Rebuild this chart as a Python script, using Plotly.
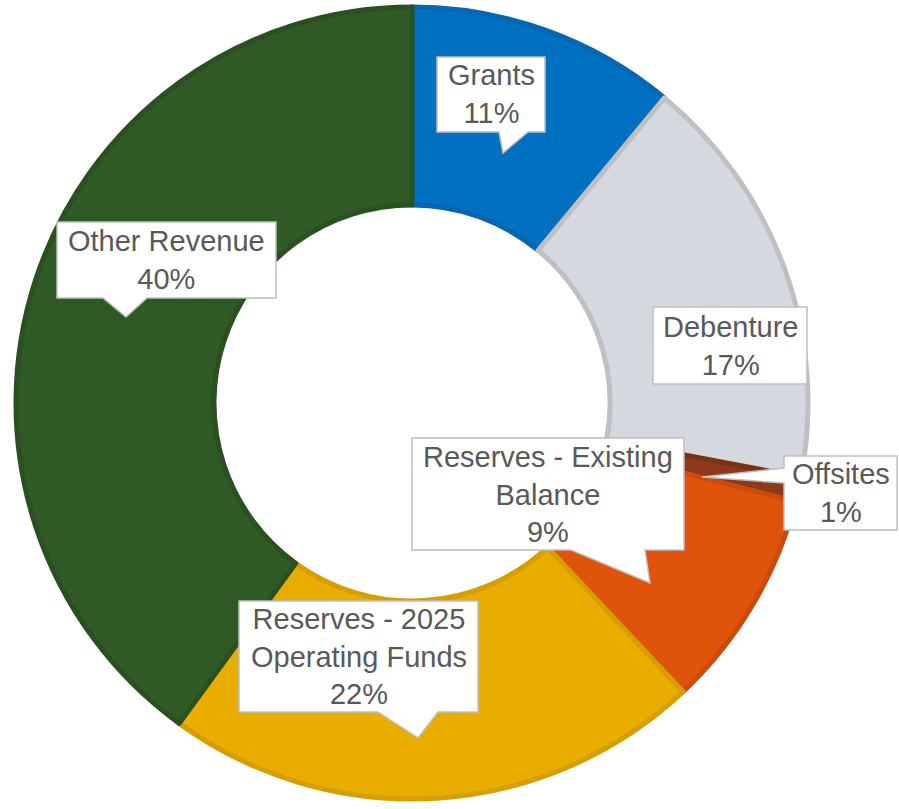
import plotly.graph_objects as go

# Funding sources (share of total, %)
categories = [
    "Grants",
    "Debenture",
    "Offsites",
    "Reserves - Existing Balance",
    "Reserves - 2025 Operating Funds",
    "Other Revenue",
]
values = [11, 17, 1, 9, 22, 40]

# Label text lines (the percentage line is added from the values)
label_lines = [
    ["Grants"],
    ["Debenture"],
    ["Offsites"],
    ["Reserves - Existing", "Balance"],
    ["Reserves - 2025", "Operating Funds"],
    ["Other Revenue"],
]

# Slice styling
fill_colors = ["#0070C0", "#D5D8DE", "#8C3A1B", "#E0530D", "#E9AD00", "#2F5A26"]
edge_colors = ["#0766B2", "#BEC0C4", "#7A3216", "#CC4A0B", "#D69E00", "#2A5021"]

W, H = 899, 809

# Callout boxes in page pixels: (x0, y0, x1, y1), pointer = (side, base_a, base_b, tip_x, tip_y)
callouts = [
    ((437, 57, 545, 132), ("bottom", 499, 528, 503, 153)),
    ((653, 307, 807, 384), None),
    ((784, 456, 897, 530), ("left", 468, 483, 702, 477)),
    ((412, 438, 684, 550), ("bottom", 571, 645, 650, 583)),
    ((239, 601, 478, 712), ("bottom", 378, 438, 418, 738)),
    ((57, 222, 276, 298), ("bottom", 103, 147, 126, 317)),
]


def px(x, y):
    """Page pixel -> paper coordinate string."""
    return f"{x / W:.5f},{1 - y / H:.5f}"


def callout_path(box, pointer):
    x0, y0, x1, y1 = box
    pts = [(x0, y0), (x1, y0)]
    if pointer is None:
        pts += [(x1, y1), (x0, y1)]
    else:
        side, a, b, tx, ty = pointer
        if side == "bottom":
            pts += [(x1, y1), (b, y1), (tx, ty), (a, y1), (x0, y1)]
        elif side == "left":
            pts += [(x1, y1), (x0, y1), (x0, b), (tx, ty), (x0, a)]
    return "M " + " L ".join(px(x, y) for x, y in pts) + " Z"


total = sum(values)
texts = [
    "<br>".join(lines + [f"{round(v / total * 100)}%"])
    for lines, v in zip(label_lines, values)
]

fig = go.Figure(
    go.Pie(
        labels=categories,
        values=values,
        sort=False,
        direction="clockwise",
        rotation=0,
        hole=0.5,
        textinfo="none",
        hoverinfo="label+percent",
        marker=dict(colors=fill_colors, line=dict(color=edge_colors, width=5)),
        domain=dict(
            x=[(412 - 396) / W, (412 + 396) / W],
            y=[(406 - 396) / H, (406 + 396) / H],
        ),
        showlegend=False,
    )
)

shapes = []
annotations = []
for (box, pointer), txt in zip(callouts, texts):
    shapes.append(
        dict(
            type="path",
            xref="paper",
            yref="paper",
            path=callout_path(box, pointer),
            fillcolor="white",
            line=dict(color="#BFBFBF", width=1.5),
            layer="above",
        )
    )
    x0, y0, x1, y1 = box
    annotations.append(
        dict(
            x=(x0 + x1) / 2 / W,
            y=1 - (y0 + y1) / 2 / H,
            xref="paper",
            yref="paper",
            xanchor="center",
            yanchor="middle",
            text=txt,
            showarrow=False,
            align="center",
            font=dict(family="Liberation Sans, Arial, sans-serif", size=29, color="#595959"),
        )
    )

fig.update_layout(
    width=W,
    height=H,
    margin=dict(l=0, r=0, t=0, b=0),
    paper_bgcolor="white",
    plot_bgcolor="white",
    shapes=shapes,
    annotations=annotations,
)

fig.write_html("out.html")
